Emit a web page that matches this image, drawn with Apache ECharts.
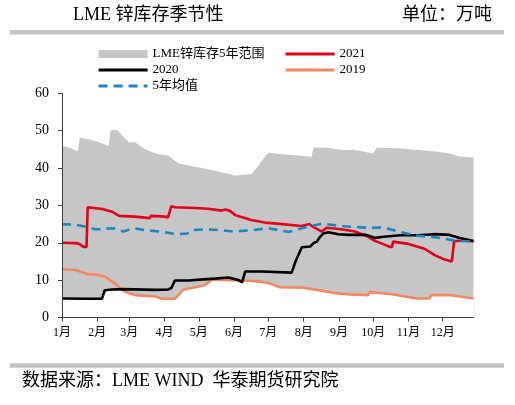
<!DOCTYPE html>
<html>
<head>
<meta charset="utf-8">
<script src="https://cdn.jsdelivr.net/npm/echarts@6/dist/echarts.min.js"></script>
<style>html,body{margin:0;padding:0;background:#fff;}#c{width:515px;height:405px;}</style>
</head>
<body>
<div id="c"></div>
<script>
// x = day of year (0 = Jan 1)
const monthStarts = [0, 31, 59, 90, 120, 151, 181, 212, 243, 273, 304, 334];
const monthLabels = ['1月','2月','3月','4月','5月','6月','7月','8月','9月','10月','11月','12月'];
const yTicks = [0, 10, 20, 30, 40, 50, 60];

const bandUpperDays = [0, 6, 14, 15.6, 23, 32, 41, 42.5, 48, 52.6, 59, 64, 73, 82, 93.5, 102, 111, 123, 134, 152, 166.5, 169, 172, 177, 181, 193, 204.5, 219, 220.6, 234, 245.5, 257, 273, 276, 298, 327, 340, 350, 361];
const bandUpperVals = [45.9, 45.5, 44.5, 48.1, 47.7, 47.0, 45.9, 50.0, 50.3, 48.8, 46.8, 46.9, 45.0, 43.9, 43.3, 41.3, 40.7, 40.0, 39.3, 38.0, 38.4, 39.5, 40.5, 42.6, 44.1, 43.7, 43.4, 43.0, 45.5, 45.4, 44.8, 44.8, 43.9, 45.5, 45.2, 44.4, 43.9, 43.0, 42.8];

const bandLowerDays = [0, 36, 37.5, 45, 51.5, 54, 64, 82, 88, 99, 106.6, 117, 125.6, 131.5, 146, 160, 175, 182.6, 191, 212, 223.5, 238, 252.7, 268.5, 269.5, 288, 311, 322, 324, 340, 361];
const bandLowerVals = [5.1, 5.0, 7.3, 7.5, 7.5, 6.9, 6.0, 5.6, 5.0, 5.0, 7.5, 8.1, 8.7, 10.0, 10.0, 9.8, 9.6, 9.1, 8.1, 8.0, 7.4, 6.6, 6.2, 6.0, 6.8, 6.3, 5.1, 5.1, 6.0, 6.0, 5.1];

const days2021 = [0, 12, 15, 19, 21.5, 22.5, 36, 44, 50, 64, 77, 78, 90, 93, 96, 99, 117, 128, 140, 143, 147, 152, 156, 166, 178, 193, 210, 217, 220, 228, 232, 245, 257, 268, 274.5, 283, 287.5, 289.5, 290.5, 304, 318, 327, 335, 342, 344, 352, 361];
const vals2021 = [20.0, 19.9, 19.7, 18.9, 18.9, 29.5, 29.0, 28.3, 27.2, 27.0, 26.6, 27.2, 27.0, 26.8, 29.8, 29.5, 29.3, 29.1, 28.6, 28.9, 28.6, 27.4, 27.0, 26.1, 25.4, 25.0, 24.5, 25.0, 24.3, 23.0, 24.0, 23.6, 23.0, 21.7, 20.5, 19.5, 18.9, 18.9, 20.3, 19.7, 18.4, 16.7, 15.6, 15.0, 20.4, 20.6, 20.4];

const days2020 = [0, 20, 35, 37.5, 44, 53, 82, 93, 96, 99, 111, 124, 134, 146, 155, 158, 160.7, 175, 201.5, 204.5, 207.4, 210.4, 217.7, 220.6, 223.5, 226.4, 229.3, 233.7, 242.5, 252, 267, 275, 282, 297, 312, 326, 340, 349, 361];
const vals2020 = [5.1, 5.0, 5.0, 7.3, 7.5, 7.6, 7.4, 7.5, 7.9, 9.9, 9.9, 10.2, 10.4, 10.7, 10.0, 9.4, 12.3, 12.3, 12.0, 14.7, 16.7, 18.8, 19.0, 19.9, 20.3, 21.6, 22.5, 22.8, 22.3, 22.1, 22.1, 21.3, 21.6, 22.0, 22.0, 22.3, 22.1, 21.3, 20.5];

const days2019 = [0, 12, 23, 32, 38, 42, 47, 52.6, 57, 64, 82, 88, 99, 106.6, 117, 125.6, 131.5, 146, 160, 175, 182.6, 191, 212, 223.5, 238, 252.7, 268.5, 269.5, 288, 311, 322, 324, 340, 361];
const vals2019 = [12.9, 12.7, 11.6, 11.4, 10.9, 10.0, 9.0, 7.4, 6.7, 6.0, 5.6, 5.0, 5.0, 7.5, 8.1, 8.7, 10.2, 10.0, 9.9, 9.6, 9.1, 8.1, 8.0, 7.4, 6.6, 6.2, 6.0, 6.8, 6.3, 5.1, 5.1, 6.0, 6.0, 5.1];

const daysAvg = [0, 12, 22, 29, 34, 45, 54, 63, 72, 86, 101, 110, 115, 127, 139, 150, 168, 181, 199, 213, 228, 245, 253, 269, 282, 297, 311, 329, 346, 361];
const valsAvg = [25.0, 24.8, 24.2, 23.6, 23.6, 23.9, 23.0, 23.9, 23.4, 23.0, 22.3, 22.5, 23.4, 23.6, 23.4, 23.0, 23.4, 23.9, 22.9, 24.1, 25.1, 24.5, 24.3, 24.0, 24.1, 22.9, 21.9, 21.4, 20.5, 20.4];

const zip = (d, v) => d.map((x, i) => [x, v[i]]);

const serif = "'Liberation Serif', 'Times New Roman', 'Noto Sans CJK SC', serif";
const chart = echarts.init(document.getElementById('c'), null, {renderer: 'canvas'});

const lineBase = {type: 'line', showSymbol: false, symbol: 'none', animation: false, silent: true};
const noSym = {opacity: 0};
const thick = {width: 3.2};

chart.setOption({
  animation: false,
  backgroundColor: '#fff',
  title: [
    {text: 'LME 锌库存季节性', left: 73, top: 6, padding: 0,
     textStyle: {fontFamily: serif, fontSize: 18, fontWeight: 'normal', color: '#000'}},
    {text: '单位：万吨', right: 23, top: 6, padding: 0,
     textStyle: {fontFamily: serif, fontSize: 18, fontWeight: 'normal', color: '#000'}},
    {text: '数据来源：LME WIND  华泰期货研究院', left: 22, top: 372, padding: 0,
     textStyle: {fontFamily: serif, fontSize: 18, fontWeight: 'normal', color: '#000'}}
  ],
  graphic: [
    {type: 'rect', shape: {x: 10, y: 30, width: 494, height: 4.5}, style: {fill: '#c3c3c3'}},
    {type: 'rect', shape: {x: 10, y: 363.3, width: 494, height: 4.5}, style: {fill: '#c3c3c3'}}
  ],
  legend: [
    {orient: 'vertical', left: 97, top: 46, padding: 0, itemGap: 0, itemWidth: 49, itemHeight: 8,
     textStyle: {fontFamily: serif, fontSize: 13, color: '#000', lineHeight: 16},
     data: [{name: 'LME锌库存5年范围', icon: 'rect', itemStyle: {color: '#c6c6c6'}},
            {name: '2020', itemStyle: noSym, lineStyle: thick}, {name: '5年均值', itemStyle: noSym, lineStyle: thick}]},
    {orient: 'vertical', left: 284, top: 46, padding: 0, itemGap: 0, itemWidth: 49, itemHeight: 8,
     textStyle: {fontFamily: serif, fontSize: 13, color: '#000', lineHeight: 16},
     data: [{name: '2021', itemStyle: noSym, lineStyle: thick}, {name: '2019', itemStyle: noSym, lineStyle: thick}]}
  ],
  grid: {left: 62, right: 41.5, top: 93.3, bottom: 87.5, containLabel: false},
  xAxis: {
    type: 'value', min: 0, max: 361, z: 5,
    axisLine: {show: true, lineStyle: {color: '#404040', width: 1}},
    axisTick: {show: true, length: 4, lineStyle: {color: '#404040'}, customValues: monthStarts},
    axisLabel: {show: true, customValues: monthStarts, margin: 9, fontSize: 12, color: '#000', fontFamily: serif,
      formatter: v => monthLabels[monthStarts.indexOf(v)]},
    splitLine: {show: false}
  },
  yAxis: {
    type: 'value', min: yTicks[0], max: yTicks[yTicks.length - 1], interval: 10, z: 5,
    axisLine: {show: true, lineStyle: {color: '#404040', width: 1}},
    axisTick: {show: true, length: 4, lineStyle: {color: '#404040'}},
    axisLabel: {margin: 13, fontSize: 14, color: '#000', fontFamily: serif},
    splitLine: {show: false}
  },
  series: [
    Object.assign({}, lineBase, {name: 'LME锌库存5年范围', data: zip(bandUpperDays, bandUpperVals), z: 1,
      lineStyle: {width: 0, color: '#c6c6c6'}, itemStyle: {color: '#c6c6c6'},
      areaStyle: {color: '#c6c6c6', opacity: 1}}),
    Object.assign({}, lineBase, {name: '_lower', data: zip(bandLowerDays, bandLowerVals), z: 1,
      lineStyle: {width: 0, color: '#fff'}, areaStyle: {color: '#ffffff', opacity: 1}}),
    Object.assign({}, lineBase, {name: '2019', data: zip(days2019, vals2019), z: 3,
      lineStyle: {width: 2.6, color: '#f28764'}, itemStyle: {color: '#f28764'}}),
    Object.assign({}, lineBase, {name: '2021', data: zip(days2021, vals2021), z: 3,
      lineStyle: {width: 2.6, color: '#e2001a'}, itemStyle: {color: '#e2001a'}}),
    Object.assign({}, lineBase, {name: '2020', data: zip(days2020, vals2020), z: 3,
      lineStyle: {width: 2.6, color: '#000000'}, itemStyle: {color: '#000000'}}),
    Object.assign({}, lineBase, {name: '5年均值', data: zip(daysAvg, valsAvg), z: 3,
      lineStyle: {width: 2.6, color: '#1b87c1', type: [9, 6]}, itemStyle: {color: '#1b87c1'}})
  ]
});
</script>
</body>
</html>
